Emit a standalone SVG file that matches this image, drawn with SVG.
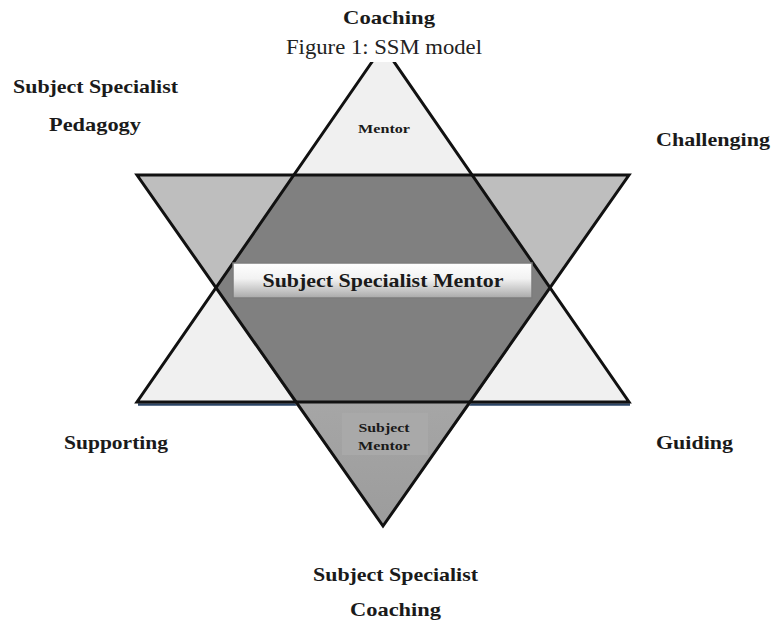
<svg xmlns="http://www.w3.org/2000/svg" width="771" height="621" viewBox="0 0 771 621">
  <defs>
    <linearGradient id="boxGrad" x1="0" y1="0" x2="0" y2="1">
      <stop offset="0" stop-color="#ffffff"/>
      <stop offset="0.45" stop-color="#f2f2f2"/>
      <stop offset="1" stop-color="#a9a9a9"/>
    </linearGradient>
    <linearGradient id="tipGrad" x1="0" y1="0" x2="0" y2="1">
      <stop offset="0" stop-color="#a6a6a6"/>
      <stop offset="1" stop-color="#9c9c9c"/>
    </linearGradient>
  </defs>
  <style>
    .lbl { font-family: "Liberation Serif", "Times New Roman", serif; font-weight: bold; fill: #1a1a1a; text-anchor: middle; }
    .big { font-size: 19px; }
    .small { font-size: 12px; }
    .edge { fill: none; stroke: #111; stroke-width: 3; stroke-linejoin: miter; }
  </style>
  <rect width="771" height="621" fill="#ffffff"/>

  <g id="star">
    <line x1="138" y1="404.5" x2="630" y2="404.5" stroke="#2b4566" stroke-width="2.5"/>
    <polygon id="up-triangle" points="383,46 137,402 629,402" fill="#f0f0f0"/>
    <polygon id="down-triangle" points="137,175 629,175 383,526" fill="#bebebe"/>
    <polygon points="294,402 472,402 383,526" fill="url(#tipGrad)"/>
    <polygon id="hexagon" points="294,175 472,175 550,288 472,402 294,402 216,288" fill="#808080"/>
    <polygon class="edge" points="383,46 137,402 629,402"/>
    <polygon class="edge" points="137,175 629,175 383,526"/>
  </g>

  <g id="caption">
    <rect x="270" y="32" width="230" height="30" fill="#ffffff"/>
    <text x="384" y="54" font-family="Liberation Serif, 'Times New Roman', serif" font-size="20" fill="#222" text-anchor="middle" textLength="196" lengthAdjust="spacingAndGlyphs">Figure 1: SSM model</text>
  </g>

  <g id="node-mentor-top">
    <text class="lbl small" x="384" y="133" textLength="52" lengthAdjust="spacingAndGlyphs">Mentor</text>
  </g>

  <g id="node-center">
    <rect x="233" y="263" width="299" height="35" fill="url(#boxGrad)" stroke="#7c7c7c" stroke-width="1.5"/>
    <text class="lbl big" x="383" y="287" textLength="241" lengthAdjust="spacingAndGlyphs">Subject Specialist Mentor</text>
  </g>

  <g id="node-subject-mentor">
    <rect x="342" y="413" width="86" height="42" fill="#a9a9a9"/>
    <text class="lbl small" x="384" y="432" textLength="51" lengthAdjust="spacingAndGlyphs">Subject</text>
    <text class="lbl small" x="384" y="450" textLength="52" lengthAdjust="spacingAndGlyphs">Mentor</text>
  </g>

  <g id="label-coaching-top">
    <text class="lbl big" x="389" y="24" textLength="92" lengthAdjust="spacingAndGlyphs">Coaching</text>
  </g>
  <g id="label-ssp">
    <text class="lbl big" x="95.5" y="93" textLength="165" lengthAdjust="spacingAndGlyphs">Subject Specialist</text>
    <text class="lbl big" x="95" y="131" textLength="92" lengthAdjust="spacingAndGlyphs">Pedagogy</text>
  </g>
  <g id="label-challenging">
    <text class="lbl big" x="713" y="146" textLength="114" lengthAdjust="spacingAndGlyphs">Challenging</text>
  </g>
  <g id="label-supporting">
    <text class="lbl big" x="116" y="449" textLength="104" lengthAdjust="spacingAndGlyphs">Supporting</text>
  </g>
  <g id="label-guiding">
    <text class="lbl big" x="694.5" y="449" textLength="77" lengthAdjust="spacingAndGlyphs">Guiding</text>
  </g>
  <g id="label-ssc">
    <text class="lbl big" x="395.5" y="581" textLength="165" lengthAdjust="spacingAndGlyphs">Subject Specialist</text>
    <text class="lbl big" x="395.5" y="616" textLength="91" lengthAdjust="spacingAndGlyphs">Coaching</text>
  </g>
</svg>
